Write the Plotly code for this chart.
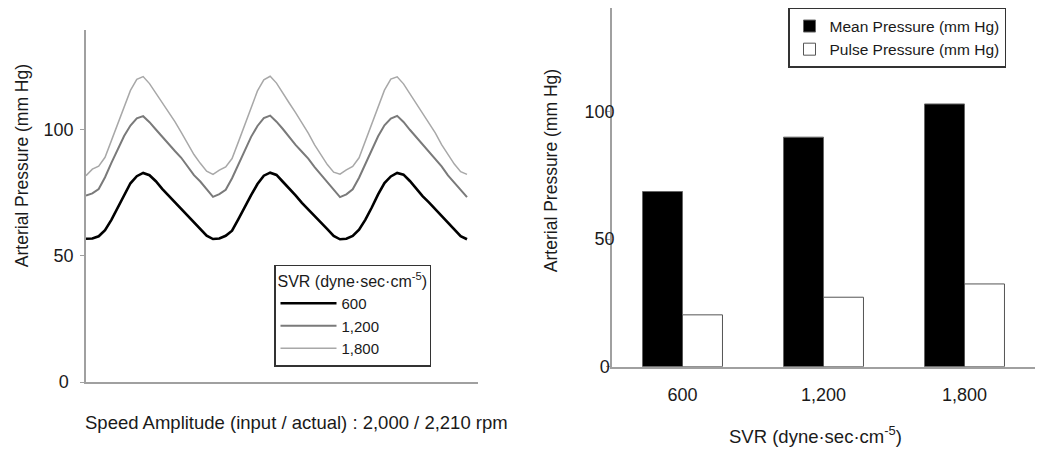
import plotly.graph_objects as go

# ---------------- data ----------------
sample_index = list(range(61))

svr_600 = [56.8, 56.9, 57.8, 60.2, 64.3, 69.3, 74.3, 78.8, 81.6, 82.9, 82.0, 79.6, 76.6, 73.9, 71.3, 68.7, 66.1, 63.5, 60.8, 58.0,
           56.7, 56.9, 58.0, 60.0, 64.6, 69.6, 74.1, 78.5, 81.8, 83.0, 82.1, 79.4, 76.8, 74.0, 71.0, 68.5, 66.0, 63.2, 60.6, 57.9,
           56.6, 56.8, 57.9, 60.4, 64.4, 69.2, 74.4, 78.9, 81.5, 82.9, 82.2, 79.7, 76.5, 73.7, 71.2, 68.6, 65.9, 63.4, 60.5, 57.8,
           56.6]
svr_1200 = [73.9, 74.8, 76.5, 81.2, 86.9, 92.3, 97.5, 101.7, 104.5, 105.4, 103.0, 100.1, 97.2, 94.2, 91.6, 88.9, 85.4, 82.0, 79.5, 76.4,
            73.4, 74.5, 76.2, 80.8, 86.5, 92.0, 97.2, 101.5, 104.6, 105.6, 103.2, 100.3, 97.0, 94.0, 91.3, 88.6, 85.2, 82.2, 79.2, 76.0,
            73.3, 74.4, 76.4, 81.0, 86.7, 92.1, 97.4, 101.8, 104.4, 105.5, 103.1, 100.0, 97.1, 94.1, 91.5, 88.7, 85.5, 81.9, 79.0, 75.9,
            73.3]
svr_1800 = [81.8, 84.4, 85.6, 89.1, 95.7, 102.4, 109.6, 115.6, 120.0, 121.1, 118.3, 114.6, 110.8, 107.0, 103.2, 99.0, 94.3, 90.2, 86.7, 83.6,
            82.3, 84.0, 85.3, 88.6, 95.2, 102.0, 109.3, 115.4, 119.8, 121.2, 118.5, 114.8, 110.6, 106.8, 103.0, 98.7, 94.0, 89.9, 86.2, 83.2,
            82.4, 84.1, 85.5, 88.9, 95.5, 102.3, 109.5, 115.7, 120.1, 121.0, 118.2, 114.4, 110.5, 106.9, 103.1, 98.8, 94.1, 90.0, 86.4, 83.4,
            82.3]

svr_categories = ["600", "1,200", "1,800"]
mean_pressure = [68.6, 89.9, 102.9]
pulse_pressure = [20.3, 27.2, 32.4]

y_tick_vals = [0, 50, 100]
y_tick_text = ["0\u00a0", "50", "100"]

# ---------------- figure ----------------
FONT = "Liberation Sans, Arial, sans-serif"
TXT = "#1a1a1a"
AXC = "#a0a0a0"
W, H = 1050, 452
H_EFF = 444.2   # effective vertical scale observed in the rendered page

def px_x(p):
    return p / W

def px_y(p):
    return 1 - p / H_EFF

fig = go.Figure()

fig.add_trace(go.Scatter(x=sample_index, y=svr_600, mode="lines", name="600",
                         line=dict(color="#000000", width=2.6), xaxis="x", yaxis="y", legend="legend"))
fig.add_trace(go.Scatter(x=sample_index, y=svr_1200, mode="lines", name="1,200",
                         line=dict(color="#7a7a7a", width=2.0), xaxis="x", yaxis="y", legend="legend"))
fig.add_trace(go.Scatter(x=sample_index, y=svr_1800, mode="lines", name="1,800",
                         line=dict(color="#a8a8a8", width=1.5), xaxis="x", yaxis="y", legend="legend"))

fig.add_trace(go.Bar(x=svr_categories, y=mean_pressure, name="Mean Pressure (mm Hg)",
                     marker=dict(color="#000000", line=dict(color="#666666", width=1)),
                     xaxis="x2", yaxis="y2", legend="legend2"))
fig.add_trace(go.Bar(x=svr_categories, y=pulse_pressure, name="Pulse Pressure (mm Hg)",
                     marker=dict(color="#ffffff", line=dict(color="#555555", width=1)),
                     xaxis="x2", yaxis="y2", legend="legend2"))

axis_common = dict(showgrid=False, zeroline=False, showline=True, linecolor=AXC, linewidth=1.5)

def ann(text, x, y, size, angle=0):
    return dict(text=text, x=px_x(x), y=px_y(y), xref="paper", yref="paper",
                xanchor="center", yanchor="middle", textangle=angle, showarrow=False,
                font=dict(size=size, family=FONT, color=TXT))

fig.update_layout(
    width=W, height=H, autosize=False,
    margin=dict(l=0, r=0, t=0, b=0, pad=0),
    paper_bgcolor="white", plot_bgcolor="white",
    font=dict(family=FONT, color=TXT, size=18),
    barmode="group", bargap=0.433, bargroupgap=0,
    xaxis=dict(domain=[px_x(86), px_x(478)], range=[0, 61.73], showticklabels=False, ticks="",
               anchor="y", **axis_common),
    yaxis=dict(domain=[px_y(384), px_y(30)], range=[0, 139.6], tickvals=y_tick_vals, ticktext=y_tick_text,
               ticks="outside", ticklen=4, tickcolor=AXC, tickwidth=1, ticklabelstandoff=3,
               tickfont=dict(size=18, family=FONT, color=TXT), anchor="x", **axis_common),
    xaxis2=dict(domain=[px_x(612), px_x(1035)], range=[-0.5, 2.5], ticks="", type="category",
                ticklabelstandoff=11,
                tickfont=dict(size=18, family=FONT, color=TXT), anchor="y2", **axis_common),
    yaxis2=dict(domain=[px_y(368.5), px_y(8)], range=[0, 140.5], tickvals=y_tick_vals, ticktext=y_tick_text,
                ticks="outside", ticklen=4, tickcolor=AXC, tickwidth=1, ticklabelstandoff=-12,
                tickfont=dict(size=18, family=FONT, color=TXT), anchor="x2", **axis_common),
    legend=dict(x=px_x(274), y=px_y(266), xanchor="left", yanchor="top",
                bgcolor="white", bordercolor="#333333", borderwidth=1.5,
                font=dict(size=15, family=FONT, color=TXT),
                title=dict(text="SVR (dyne·sec·cm<sup>-5</sup>)", side="top",
                           font=dict(size=16, family=FONT, color=TXT)),
                tracegroupgap=0, itemwidth=56),
    legend2=dict(x=px_x(788), y=px_y(8), xanchor="left", yanchor="top",
                 bgcolor="white", bordercolor="#333333", borderwidth=1.5,
                 font=dict(size=15.5, family=FONT, color=TXT), tracegroupgap=0),
    showlegend=True,
    annotations=[
        ann("Arterial Pressure (mm Hg)", 22, 167, 17.5, -90),
        ann("Arterial Pressure (mm Hg)", 551, 172, 17.5, -90),
        ann("Speed Amplitude (input / actual) : 2,000 / 2,210 rpm", 296.5, 425, 18.5),
        ann("SVR (dyne·sec·cm<sup>-5</sup>)", 815, 437, 18.5),
    ],
)

fig.write_html("out.html",
               config=dict(displayModeBar=False, responsive=False),
               post_script="document.body.style.margin='0px';")
